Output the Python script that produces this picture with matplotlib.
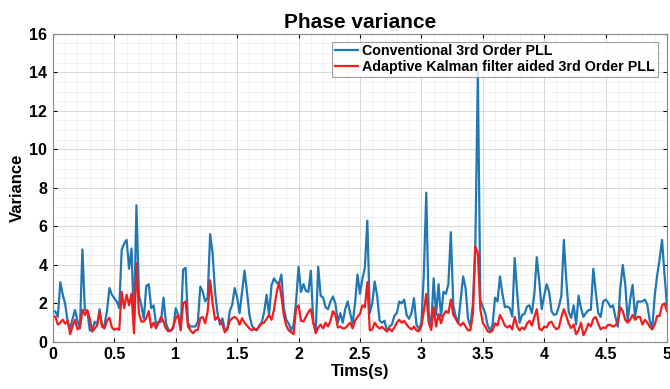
import numpy as np
import matplotlib
matplotlib.use("Agg")
import matplotlib.pyplot as plt
from matplotlib.ticker import MultipleLocator

plt.rcParams['font.family'] = ['Liberation Sans', 'DejaVu Sans']
plt.rcParams['font.weight'] = 'bold'

t_start, t_end, t_step = 0.0, 5.0, 0.02

conventional_pll = [
    1.6, 1.58, 1.3, 3.1, 2.45, 1.95, 1.05, 0.7, 1.2, 1.66,
    1.1, 0.7, 4.8, 1.65, 1.6, 0.6, 0.6, 1.05, 0.9, 1.7,
    0.8, 0.9, 1.6, 2.8, 2.45, 2.27, 2.1, 1.75, 4.8, 5.1,
    5.3, 3.8, 4.85, 0.9, 7.1, 2.45, 1.9, 1.2, 2.9, 3.0,
    1.75, 1.9, 0.9, 1.05, 1.05, 2.3, 1.0, 0.63, 0.58, 0.7,
    1.75, 1.41, 0.65, 3.75, 3.85, 0.97, 0.8, 0.8, 0.8, 1.06,
    2.88, 2.6, 2.1, 2.3, 5.6, 4.6, 2.6, 1.5, 0.9, 1.23,
    0.6, 0.63, 1.6, 1.93, 2.8, 2.3, 1.5, 2.62, 3.7, 2.6,
    1.4, 0.85, 0.65, 0.6, 0.85, 1.0, 1.55, 2.45, 1.4, 2.95,
    3.3, 3.1, 3.0, 3.5, 1.75, 1.15, 0.95, 0.6, 0.9, 2.1,
    3.9, 2.6, 3.0, 2.65, 2.6, 3.7, 1.0, 0.63, 3.9, 2.4,
    2.3, 1.8, 1.7, 2.1, 2.36, 2.0, 1.0, 1.5, 1.0, 1.7,
    2.1, 1.5, 0.95, 2.0, 3.5, 2.5, 3.3, 3.84, 6.3, 1.5,
    2.0, 3.14, 2.4, 1.1, 1.0, 1.1, 0.55, 0.8, 0.9, 1.35,
    1.5, 2.1, 2.0, 2.2, 1.4, 1.2, 1.5, 2.27, 0.9, 0.65,
    1.0, 3.5, 7.75, 1.5, 0.8, 3.3, 1.4, 3.0, 1.32, 2.6,
    2.5, 3.0, 5.7, 1.9, 1.3, 0.97, 2.2, 3.4, 2.8, 1.2,
    0.8, 2.0, 5.2, 14.0, 2.2, 1.8, 1.5, 0.85, 0.6, 0.9,
    2.3, 2.1, 3.4, 2.5, 1.8, 1.84, 1.75, 1.32, 4.36, 2.54,
    1.0, 1.4, 1.45, 1.84, 1.9, 1.5, 2.5, 4.4, 3.14, 1.7,
    2.4, 3.0, 2.6, 1.6, 1.4, 1.45, 1.85, 2.4, 5.3, 3.2,
    1.55, 1.25, 1.9, 0.9, 2.4, 1.75, 1.3, 1.5, 1.65, 1.67,
    3.8, 2.6, 1.5, 1.3, 2.1, 2.2, 2.05, 1.8, 1.9, 1.3,
    0.8, 2.8, 4.0, 3.0, 1.1, 2.2, 2.97, 1.3, 2.1, 2.1,
    2.1, 2.2, 1.93, 1.1, 0.7, 2.4, 3.45, 4.3, 5.3, 3.5,
    1.9,
]

kalman_pll = [
    1.35, 1.3, 0.9, 1.0, 1.15, 0.95, 1.1, 0.4, 0.8, 1.15,
    0.65, 0.75, 1.67, 1.4, 1.65, 1.2, 0.54, 0.7, 0.85, 1.55,
    0.8, 0.7, 1.1, 1.26, 0.75, 0.63, 0.7, 0.63, 2.6, 1.75,
    2.45, 1.9, 2.5, 0.45, 4.1, 1.49, 1.06, 1.06, 1.23, 1.6,
    0.75, 1.0, 0.7, 1.0, 1.3, 1.06, 0.7, 0.55, 0.6, 0.8,
    1.23, 1.41, 0.6, 2.0, 2.1, 0.8, 0.6, 0.45, 0.6, 0.63,
    1.23, 1.3, 0.97, 1.6, 3.2, 2.0, 1.15, 1.3, 1.1, 0.9,
    0.5, 0.7, 1.1, 1.23, 1.3, 1.2, 0.9, 1.23, 1.0, 0.85,
    0.7, 0.6, 0.7, 0.65, 0.8, 0.97, 1.0, 1.2, 1.4, 1.15,
    1.67, 2.5, 3.1, 2.4, 1.4, 0.85, 0.6, 0.5, 0.4, 1.75,
    1.9, 1.1, 1.06, 1.3, 1.55, 1.7, 1.0, 0.45, 0.75, 0.9,
    0.7, 1.0, 0.8, 1.1, 1.6, 1.4, 0.75, 0.8, 0.7, 0.72,
    0.85, 1.0, 0.7, 1.1, 1.3, 1.45, 1.9, 1.8, 3.1, 0.6,
    0.65, 1.0, 0.8, 0.7, 0.78, 0.65, 0.55, 0.7, 0.55, 0.75,
    1.0, 1.15, 1.0, 1.1, 0.9, 0.75, 0.65, 0.8, 0.6, 0.55,
    0.8, 1.6, 2.5, 1.0, 0.62, 1.8, 0.8, 1.45, 0.97, 1.4,
    1.6, 1.5, 2.2, 1.4, 1.2, 0.97, 0.85, 1.0, 0.8, 0.6,
    0.62, 1.5, 4.95, 4.6, 1.7, 1.0, 0.8, 0.55, 0.5, 0.6,
    0.97, 0.85, 1.4, 1.15, 0.85, 0.75, 0.85, 0.65, 1.3, 0.8,
    0.6, 0.75, 0.65, 0.95, 1.1, 0.85, 1.3, 1.7, 0.7, 0.6,
    0.8, 0.75, 1.0, 1.05, 0.8, 0.65, 0.75, 1.3, 1.7, 1.35,
    0.95, 0.72, 0.9, 0.4, 0.6, 1.0, 0.35, 0.6, 0.95, 0.8,
    1.2, 1.3, 0.95, 0.65, 0.75, 0.72, 0.88, 0.88, 0.8, 0.85,
    1.06, 1.8, 1.6, 1.15, 1.0, 1.15, 1.4, 1.15, 1.3, 1.3,
    0.9, 1.15, 1.0, 0.78, 0.65, 0.9, 1.35, 1.35, 1.9, 2.0,
    1.6,
]

series_labels = ["Conventional 3rd Order PLL",
                 "Adaptive Kalman filter aided 3rd Order PLL"]
x_ticks = [0, 0.5, 1, 1.5, 2, 2.5, 3, 3.5, 4, 4.5, 5]
x_tick_labels = ["0", "0.5", "1", "1.5", "2", "2.5", "3", "3.5", "4", "4.5", "5"]
y_ticks = [0, 2, 4, 6, 8, 10, 12, 14, 16]

time = np.linspace(t_start, t_end, len(conventional_pll))

fig = plt.figure(figsize=(6.7, 3.89), dpi=100)
ax = fig.add_axes([0.079, 0.121, 0.9165, 0.792])

ax.plot(time, conventional_pll, color='#1f77b4', lw=1.6, label=series_labels[0])
ax.plot(time, kalman_pll, color='#f01e1e', lw=1.6, label=series_labels[1])

ax.set_xlim(0, 5)
ax.set_ylim(0, 16)
ax.set_xticks(x_ticks)
ax.set_xticklabels(x_tick_labels)
ax.set_yticks(y_ticks)
ax.xaxis.set_minor_locator(MultipleLocator(0.1))
ax.yaxis.set_minor_locator(MultipleLocator(0.5))
ax.grid(which='major', color='#d8d8d8', lw=0.7)
ax.grid(which='minor', color='#ececec', lw=0.5)
ax.set_axisbelow(True)
ax.tick_params(which='both', direction='in', top=True, right=True, labelsize=11.5, length=3, pad=4)
ax.tick_params(which='minor', length=0)
for lab in ax.get_xticklabels() + ax.get_yticklabels():
    lab.set_fontweight('bold')
for s in ax.spines.values():
    s.set_color('#888888')
    s.set_linewidth(0.8)

ax.set_title("Phase variance", fontsize=15, fontweight='bold', pad=4)
ax.set_xlabel("Tims(s)", fontsize=12, fontweight='bold', labelpad=1)
ax.set_ylabel("Variance", fontsize=12, fontweight='bold', labelpad=3)

leg = ax.legend(loc='upper right', bbox_to_anchor=(0.985, 0.975), fontsize=10.3,
                frameon=True, fancybox=False, borderpad=0.2, handlelength=1.6,
                handletextpad=0.3, labelspacing=0.1, borderaxespad=0)
leg.get_frame().set_edgecolor('#888888')
leg.get_frame().set_linewidth(0.8)
for txt in leg.get_texts():
    txt.set_fontweight('bold')

fig.savefig("out.png", dpi=100)
